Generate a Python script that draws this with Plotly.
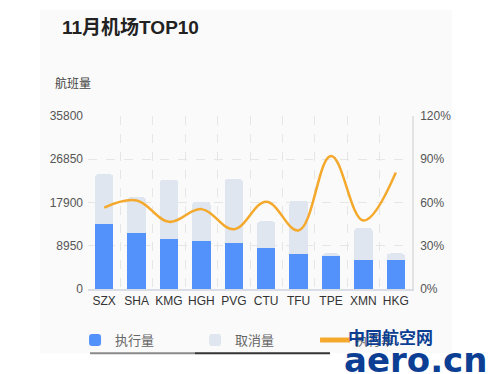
import plotly.graph_objects as go

airports = ["SZX", "SHA", "KMG", "HGH", "PVG", "CTU", "TFU", "TPE", "XMN", "HKG"]
executed = [13500, 11550, 10450, 9900, 9450, 8550, 7300, 6900, 5950, 5950]
cancelled = [10250, 7450, 12150, 8200, 13350, 5450, 11000, 470, 6650, 1420]
exec_rate = [56.5, 61.4, 46.6, 55.4, 41.5, 60.5, 40.6, 92.3, 47.5, 80.8]
left_ticks = [0, 8950, 17900, 26850, 35800]
right_ticks = [0, 30, 60, 90, 120]

FONT = "Liberation Sans, Noto Sans CJK SC"

fig = go.Figure()
fig.add_trace(go.Bar(
    x=airports, y=executed, name="执行量",
    marker=dict(color="#5392fa", line=dict(width=0)),
))
fig.add_trace(go.Bar(
    x=airports, y=cancelled, name="取消量",
    marker=dict(color="#dfe6ef", line=dict(width=0)),
))
fig.add_trace(go.Scatter(
    x=airports, y=exec_rate, name="执行率", yaxis="y2",
    mode="lines", line=dict(color="#f4a92c", width=2.5, shape="spline", smoothing=1.1),
))

fig.update_layout(
    width=500, height=374,
    margin=dict(l=80, r=96, t=108, b=93),
    paper_bgcolor="white", plot_bgcolor="rgba(0,0,0,0)",
    barmode="stack", bargap=0.43, barcornerradius=4,
    font=dict(family=FONT, color="#555"),
    showlegend=True,
    legend=dict(orientation="h", x=-0.04, xanchor="left", y=-0.295, yanchor="middle",
                traceorder="normal", bgcolor="rgba(0,0,0,0)",
                entrywidth=75, entrywidthmode="pixels",
                font=dict(size=13, color="#666", family=FONT), itemsizing="constant"),
    xaxis=dict(
        type="category", tickson="boundaries", showgrid=True, griddash="dash",
        gridcolor="#e6e6e6", gridwidth=1, ticks="", showline=True, linecolor="#d9dde6",
        linewidth=1.5, tickfont=dict(size=12, color="#333"), tickangle=0,
        automargin=False, fixedrange=True,
    ),
    yaxis=dict(
        range=[0, 35800], tickvals=left_ticks, ticktext=[str(v) for v in left_ticks],
        showgrid=True, griddash="dash", gridcolor="#e6e6e6", zeroline=False,
        tickfont=dict(size=12, color="#555"), ticks="", ticklabelstandoff=4,
        automargin=False,
    ),
    yaxis2=dict(
        overlaying="y", side="right", range=[0, 120], tickvals=right_ticks,
        ticktext=[f"{v}%" for v in right_ticks], showgrid=False, zeroline=False,
        showline=True, linecolor="#e3e3e3", linewidth=1.5,
        tickfont=dict(size=12, color="#555"), ticks="", ticklabelstandoff=4,
        automargin=False,
    ),
    shapes=[
        dict(type="rect", xref="paper", yref="paper", x0=-0.148, x1=1.123, y0=-0.37, y1=1.613,
             fillcolor="#fafafa", line=dict(width=0), layer="below"),
        dict(type="line", xref="paper", yref="paper", x0=0.006, x1=0.33, y0=-0.372, y1=-0.372,
             line=dict(color="#8a8a8a", width=2)),
        dict(type="line", xref="paper", yref="paper", x0=0.33, x1=0.747, y0=-0.372, y1=-0.372,
             line=dict(color="#333333", width=2)),
    ],
    annotations=[
        dict(text="<b>11月机场TOP10</b>", xref="paper", yref="paper", x=-0.087, y=1.51,
             xanchor="left", yanchor="middle", showarrow=False,
             font=dict(size=19, color="#222", family=FONT)),
        dict(text="航班量", xref="paper", yref="paper", x=-0.107, y=1.185,
             xanchor="left", yanchor="middle", showarrow=False,
             font=dict(size=12, color="#444", family=FONT)),
        dict(text="<b>中国航空网</b>", xref="paper", yref="paper", x=0.795, y=-0.275,
             xanchor="left", yanchor="middle", showarrow=False,
             font=dict(size=17, color="#0c3f93", family="Noto Sans CJK SC")),
        dict(text="<b>aero.cn</b>", xref="paper", yref="paper", x=0.785, y=-0.41,
             xanchor="left", yanchor="middle", showarrow=False,
             font=dict(size=34, color="#0c3f93", family="DejaVu Sans")),
    ],
)

fig.write_html("out.html")
